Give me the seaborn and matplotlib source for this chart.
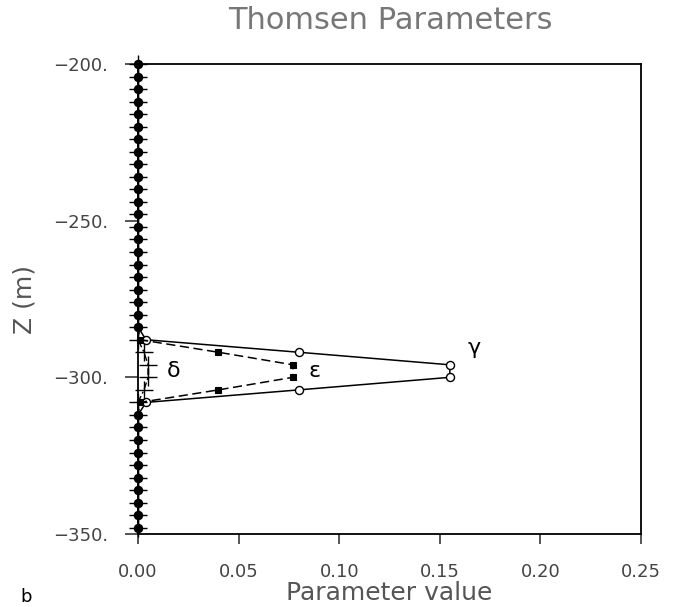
import matplotlib
matplotlib.use("Agg")
import matplotlib.pyplot as plt
import matplotlib.ticker as mticker
import seaborn as sns
import pandas as pd

# ---- data ----
depth = [-200, -204, -208, -212, -216, -220, -224, -228, -232, -236,
         -240, -244, -248, -252, -256, -260, -264, -268, -272, -276,
         -280, -284, -288, -292, -296, -300, -304, -308, -312, -316,
         -320, -324, -328, -332, -336, -340, -344, -348]
gamma = [0.0] * 22 + [0.004, 0.080, 0.155, 0.155, 0.080, 0.004] + [0.0] * 10
epsilon = [0.0] * 22 + [0.001, 0.040, 0.077, 0.077, 0.040, 0.001] + [0.0] * 10
delta = [0.0] * 22 + [0.0, 0.003, 0.005, 0.005, 0.003, 0.0] + [0.0] * 10

xticks = [0.00, 0.05, 0.10, 0.15, 0.20, 0.25]
yticks = [-200, -250, -300, -350]
title = "Thomsen Parameters"
xlabel = "Parameter value"
ylabel = "Z (m)"

df = pd.DataFrame({"depth": depth, "gamma": gamma,
                   "epsilon": epsilon, "delta": delta})

sns.set_style("ticks")
plt.rcParams["font.family"] = ["DejaVu Sans"]

fig = plt.figure(figsize=(6.75, 6.07), dpi=100)
ax = fig.add_axes([138 / 675, 1 - 534 / 607, (641 - 138) / 675, (534 - 64) / 607])

common = dict(sort=False, estimator=None, color="black", clip_on=False, ax=ax)
sns.lineplot(data=df, x="gamma", y="depth", marker="o", markersize=5.8,
             markeredgewidth=1.0, markerfacecolor="white",
             markeredgecolor="black", linewidth=1.1, linestyle="-", **common)
sns.lineplot(data=df, x="epsilon", y="depth", marker="s", markersize=4.8,
             markeredgewidth=0.8, markerfacecolor="black",
             markeredgecolor="black", linewidth=1.1,
             linestyle=(0, (6, 3)), **common)
sns.lineplot(data=df, x="delta", y="depth", marker="+", markersize=13,
             markeredgewidth=1.0, markeredgecolor="black", linewidth=1.0,
             linestyle=(0, (5, 2, 1.5, 2)), **common)

ax.set_xlim(0, 0.25)
ax.set_ylim(-350, -200)
ax.set_xticks(xticks)
ax.set_yticks(yticks)
ax.xaxis.set_major_formatter(mticker.FuncFormatter(lambda v, p: f"{v:.2f}"))
ax.yaxis.set_major_formatter(
    mticker.FuncFormatter(lambda v, p: f"{v:.0f}.".replace("-", "\u2212")))

for s in ax.spines.values():
    s.set_linewidth(1.3)
    s.set_color("black")
ax.tick_params(axis="x", direction="out", length=7, width=1.1,
               pad=14, labelsize=13, labelcolor="#444444")
ax.tick_params(axis="y", direction="out", length=9.5, width=1.1,
               pad=12, labelsize=13, labelcolor="#444444")

ax.set_xlabel(xlabel, fontsize=18, color="#555555", labelpad=0)
ax.set_ylabel(ylabel, fontsize=18, color="#555555", labelpad=12)
fig.text(390 / 675, 1 - 29 / 607, title, fontsize=22, color="#777777",
         ha="center", va="baseline")

ax.text(0.164, -290.5, "\u03b3", fontsize=16, color="black", ha="left", va="center")
ax.text(0.0845, -298, "\u03b5", fontsize=16, color="black", ha="left", va="center")
ax.text(0.0145, -298, "\u03b4", fontsize=16, color="black", ha="left", va="center")

fig.text(20 / 675, 1 - 606 / 607, "b", fontsize=13, color="black",
         ha="left", va="bottom")

fig.savefig("out.png", dpi=100)
